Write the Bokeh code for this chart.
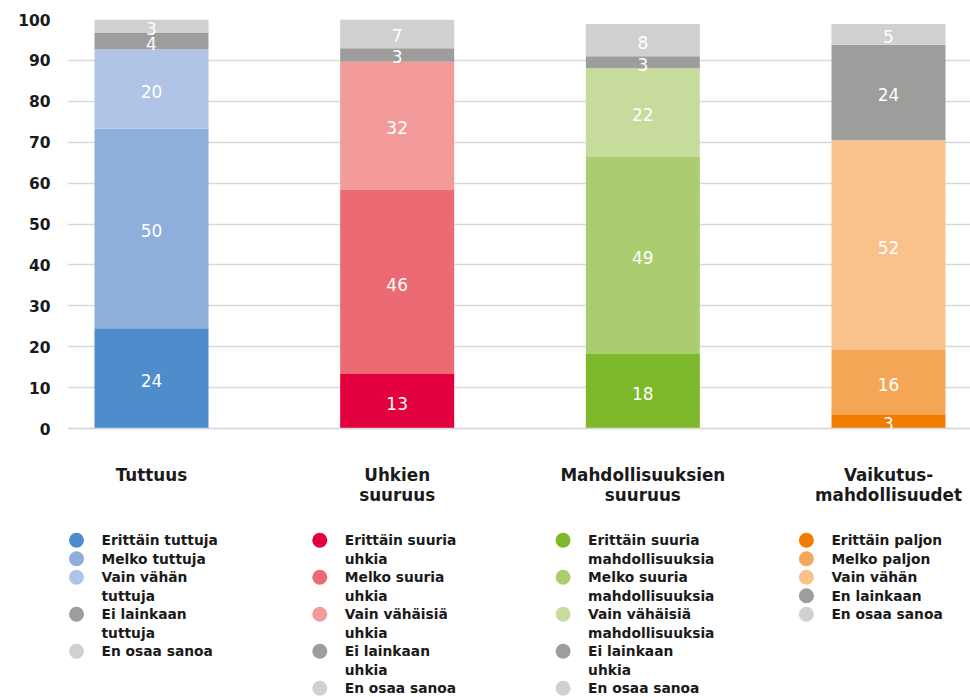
from bokeh.plotting import figure
from bokeh.models import Range1d, FixedTicker, ColumnDataSource, Span
from bokeh.embed import file_html
from bokeh.resources import INLINE
from bokeh.core.properties import value

# ---------------- data ----------------
categories = ["Tuttuus", "Uhkien\nsuuruus", "Mahdollisuuksien\nsuuruus", "Vaikutus-\nmahdollisuudet"]
y_ticks = [0, 10, 20, 30, 40, 50, 60, 70, 80, 90, 100]

# segment values, bottom to top (Erittäin, Melko, Vain, Ei/En lainkaan, En osaa sanoa)
tuttuus_values = [24.5, 48.8, 19.4, 4.0, 3.3]
uhkien_values = [13.3, 45.0, 31.4, 3.3, 7.0]
mahdollisuudet_values = [18.2, 48.2, 21.7, 2.9, 7.9]
vaikutus_values = [3.5, 15.7, 51.3, 23.3, 5.1]

# printed labels
tuttuus_labels = ["24", "50", "20", "4", "3"]
uhkien_labels = ["13", "46", "32", "3", "7"]
mahdollisuudet_labels = ["18", "49", "22", "3", "8"]
vaikutus_labels = ["3", "16", "52", "24", "5"]

tuttuus_colors = ["#4f8ccb", "#8eaedb", "#afc4e7", "#9d9d9c", "#d0d0d0"]
uhkien_colors = ["#e3003f", "#ec6a73", "#f29b9a", "#9d9d9c", "#d0d0d0"]
mahdollisuudet_colors = ["#7eb82b", "#abcd70", "#c7dc9c", "#9d9d9c", "#d0d0d0"]
vaikutus_colors = ["#ee7d00", "#f5a757", "#f9c28a", "#9d9d9c", "#d0d0d0"]

tuttuus_legend = ["Erittäin tuttuja", "Melko tuttuja", "Vain vähän\ntuttuja",
                  "Ei lainkaan\ntuttuja", "En osaa sanoa"]
uhkien_legend = ["Erittäin suuria\nuhkia", "Melko suuria\nuhkia", "Vain vähäisiä\nuhkia",
                 "Ei lainkaan\nuhkia", "En osaa sanoa"]
mahdollisuudet_legend = ["Erittäin suuria\nmahdollisuuksia", "Melko suuria\nmahdollisuuksia",
                         "Vain vähäisiä\nmahdollisuuksia", "Ei lainkaan\nuhkia", "En osaa sanoa"]
vaikutus_legend = ["Erittäin paljon", "Melko paljon", "Vain vähän", "En lainkaan", "En osaa sanoa"]

all_values = [tuttuus_values, uhkien_values, mahdollisuudet_values, vaikutus_values]
all_labels = [tuttuus_labels, uhkien_labels, mahdollisuudet_labels, vaikutus_labels]
all_colors = [tuttuus_colors, uhkien_colors, mahdollisuudet_colors, vaikutus_colors]
all_legends = [tuttuus_legend, uhkien_legend, mahdollisuudet_legend, vaikutus_legend]

# ---------------- layout constants ----------------
W, H = 970, 697
BORDER_LEFT, BORDER_TOP = 67, 19
PX_X = 245.67          # pixels per category step
PX_Y = 4.09            # pixels per percentage point
ZERO_Y = 428.3
frame_w = W - BORDER_LEFT
frame_h = H - BORDER_TOP
x_start = -(151 - 67) / PX_X
x_end = x_start + frame_w / PX_X
y_end = 100
y_start = y_end - frame_h / PX_Y
BAR_W = 114 / PX_X
TXT = "#1a1a1a"
FONT = "DejaVu Sans"


def page_y(py):
    return (ZERO_Y - py) / PX_Y


p = figure(width=W, height=H, output_backend="svg", toolbar_location=None,
           x_range=Range1d(x_start, x_end), y_range=Range1d(y_start, y_end),
           x_axis_type=None, min_border_left=BORDER_LEFT, min_border_top=BORDER_TOP,
           min_border_right=0, min_border_bottom=0)
p.outline_line_color = None
p.background_fill_color = "white"

p.yaxis.ticker = FixedTicker(ticks=y_ticks)
p.ygrid.ticker = FixedTicker(ticks=y_ticks)
p.ygrid.grid_line_color = "#d9d9d9"
p.ygrid.grid_line_width = 1.3
p.xgrid.visible = False
p.yaxis.axis_line_color = None
p.yaxis.major_tick_line_color = None
p.yaxis.minor_tick_line_color = None
p.yaxis.major_tick_in = 0
p.yaxis.major_tick_out = 0
p.yaxis.major_label_standoff = 17
p.yaxis.major_label_text_font = FONT
p.yaxis.major_label_text_font_style = "bold"
p.yaxis.major_label_text_font_size = "15.5px"
p.yaxis.major_label_text_color = TXT

# ---------------- bars ----------------
xs, bottoms, tops, colors, mids, texts = [], [], [], [], [], []
for i, (vals, labs, cols) in enumerate(zip(all_values, all_labels, all_colors)):
    acc = 0.0
    for v, lab, c in zip(vals, labs, cols):
        xs.append(i)
        bottoms.append(acc)
        tops.append(acc + v)
        colors.append(c)
        mids.append(acc + v / 2)
        texts.append(lab)
        acc += v

src = ColumnDataSource(dict(x=xs, bottom=bottoms, top=tops, color=colors, mid=mids, text=texts))
p.vbar(x="x", width=BAR_W, bottom="bottom", top="top", fill_color="color",
       line_color=None, source=src)
p.text(x="x", y="mid", text="text", source=src, text_color="white",
       text_font=value(FONT), text_font_size="17px", text_align="center",
       text_baseline="middle", y_offset=2)

p.add_layout(Span(location=0, dimension="width", line_color="#d5d9de", line_width=1.5))

# ---------------- category labels ----------------
cx, cy, ct = [], [], []
for i, name in enumerate(categories):
    for k, line in enumerate(name.split("\n")):
        cx.append(i)
        cy.append(page_y(475 + 20 * k))
        ct.append(line)
p.text(x=cx, y=cy, text=ct, text_color=TXT, text_font=value(FONT),
       text_font_style="bold", text_font_size="16.8px", text_align="center",
       text_baseline="middle")

# ---------------- legends ----------------
LEG_X0 = (76 - 151) / PX_X
LEG_STEP = 243.3 / PX_X
LEG_TXT_DX = 25 / PX_X
ROW0, ROW_H = 540, 18.5
mx, my, mc, tx, ty, tt = [], [], [], [], [], []
for i, (items, cols) in enumerate(zip(all_legends, all_colors)):
    row = 0
    x0 = LEG_X0 + i * LEG_STEP
    for lab, c in zip(items, cols):
        mx.append(x0)
        my.append(page_y(ROW0 + ROW_H * row))
        mc.append(c)
        for line in lab.split("\n"):
            tx.append(x0 + LEG_TXT_DX)
            ty.append(page_y(ROW0 + ROW_H * row))
            tt.append(line)
            row += 1

p.scatter(x=mx, y=my, marker="circle", size=15, fill_color=mc, line_color=None)
p.text(x=tx, y=ty, text=tt, text_color=TXT, text_font=value(FONT),
       text_font_style="bold", text_font_size="13.8px", text_align="left",
       text_baseline="middle")

open("out.html", "w").write(file_html(p, INLINE))
